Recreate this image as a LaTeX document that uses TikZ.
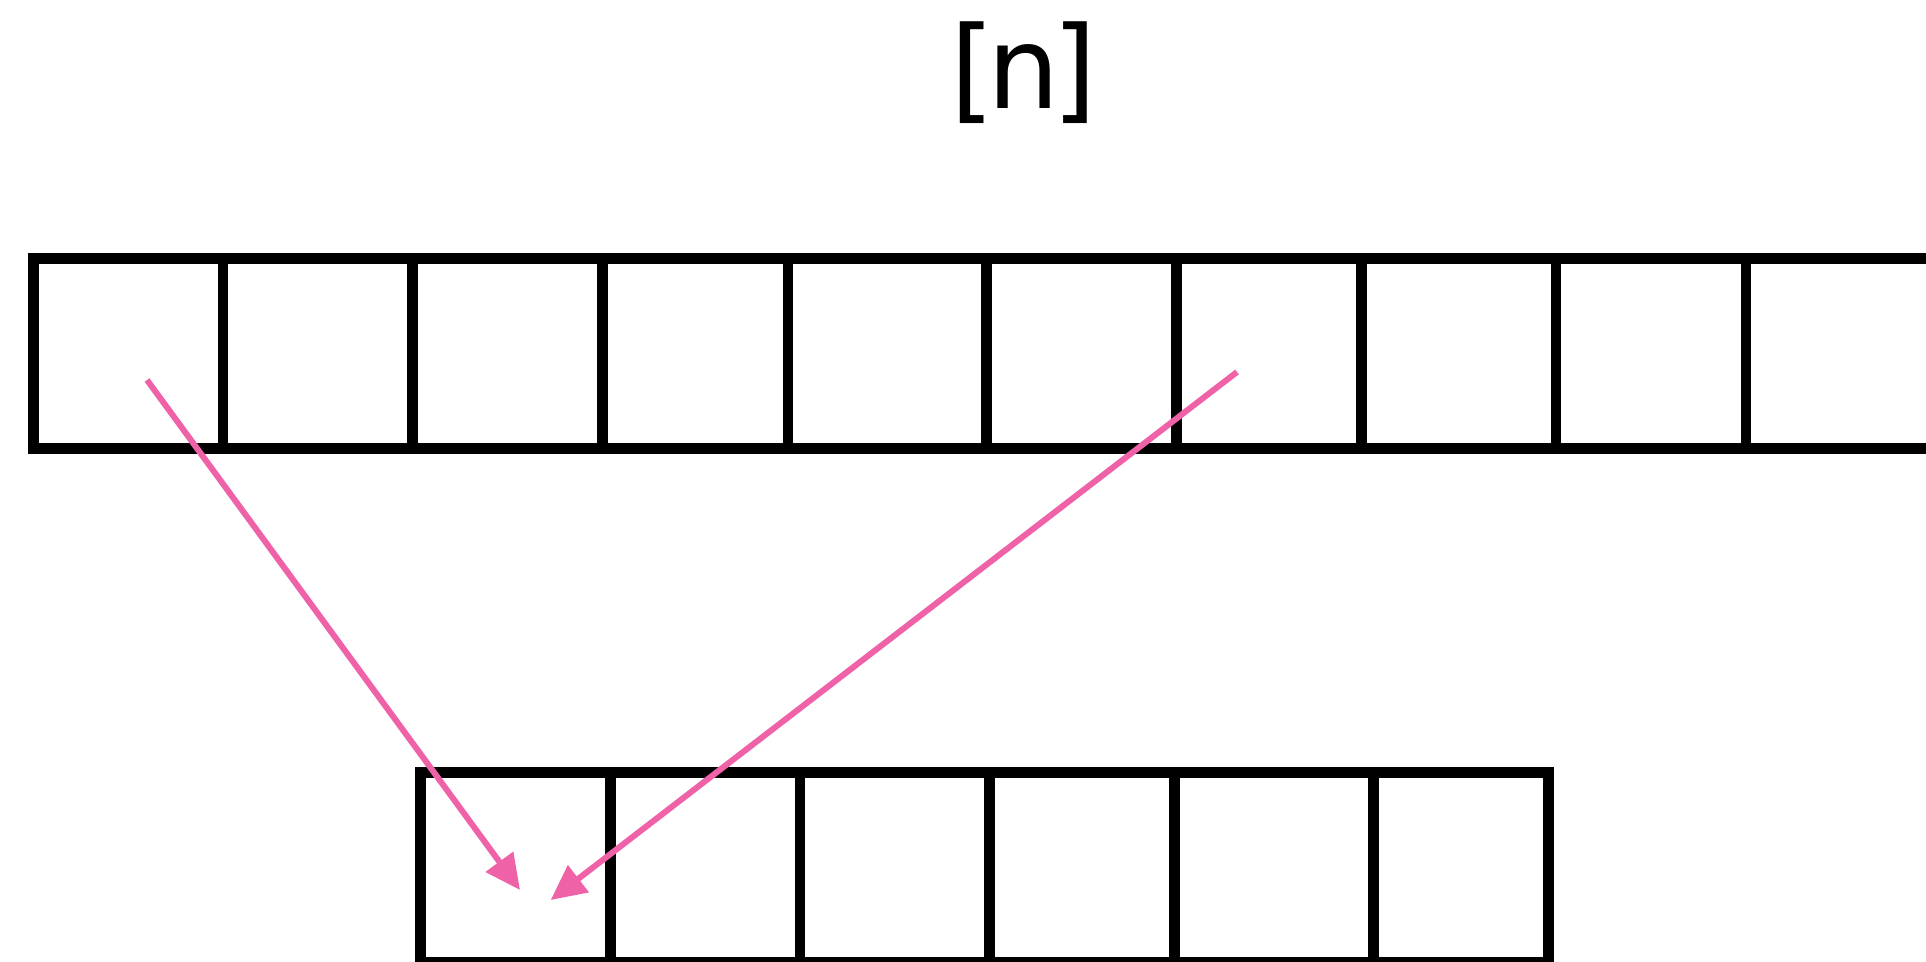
\documentclass[tikz,border=0pt]{standalone}
\usepackage{fontspec}
\setmainfont{DejaVu Sans}
\usepackage{tikz}
\usetikzlibrary{arrows.meta}
\usepackage{xcolor}
\definecolor{arrowpink}{RGB}{239,98,168}

\begin{document}
\begin{tikzpicture}[>={Triangle[length=3.5mm,width=3.3mm]},
  cell/.style={draw, line width=3.1pt, minimum height=1.9cm, inner sep=0pt},
  ptr/.style={->, color=arrowpink, line width=1.7pt}]
  \useasboundingbox (0,0) rectangle (19.26,9.61);
  \node[font=\fontsize{32.5}{39}\selectfont, anchor=base] (title) at (10.24,8.52) {[\kern-0.065em n\kern-0.065em]};
  \node[cell, minimum width=1.895cm] (t1) at (1.2825,6.072) {};
  \node[cell, minimum width=1.898cm] (t2) at (3.179,6.072) {};
  \node[cell, minimum width=1.900cm] (t3) at (5.078,6.072) {};
  \node[cell, minimum width=1.852cm] (t4) at (6.954,6.072) {};
  \node[cell, minimum width=1.985cm] (t5) at (8.8725,6.072) {};
  \node[cell, minimum width=1.900cm] (t6) at (10.815,6.072) {};
  \node[cell, minimum width=1.848cm] (t7) at (12.689,6.072) {};
  \node[cell, minimum width=1.947cm] (t8) at (14.5865,6.072) {};
  \node[cell, minimum width=1.900cm] (t9) at (16.51,6.072) {};
  \node[cell, minimum width=1.900cm] (t10) at (18.41,6.072) {};
  \node[cell, minimum width=1.901cm] (b1) at (5.1555,0.932) {};
  \node[cell, minimum width=1.894cm] (b2) at (7.053,0.932) {};
  \node[cell, minimum width=1.898cm] (b3) at (8.949,0.932) {};
  \node[cell, minimum width=1.845cm] (b4) at (10.8205,0.932) {};
  \node[cell, minimum width=1.990cm] (b5) at (12.738,0.932) {};
  \node[cell, minimum width=1.752cm] (b6) at (14.609,0.932) {};
  \coordinate (src1) at (1.47,5.81);
  \coordinate (dst1) at (5.20,0.71);
  \coordinate (src2) at (12.37,5.89);
  \coordinate (dst2) at (5.507,0.61);
  \draw[ptr] (src1) -- (dst1);
  \draw[ptr] (src2) -- (dst2);
\end{tikzpicture}
\end{document}
